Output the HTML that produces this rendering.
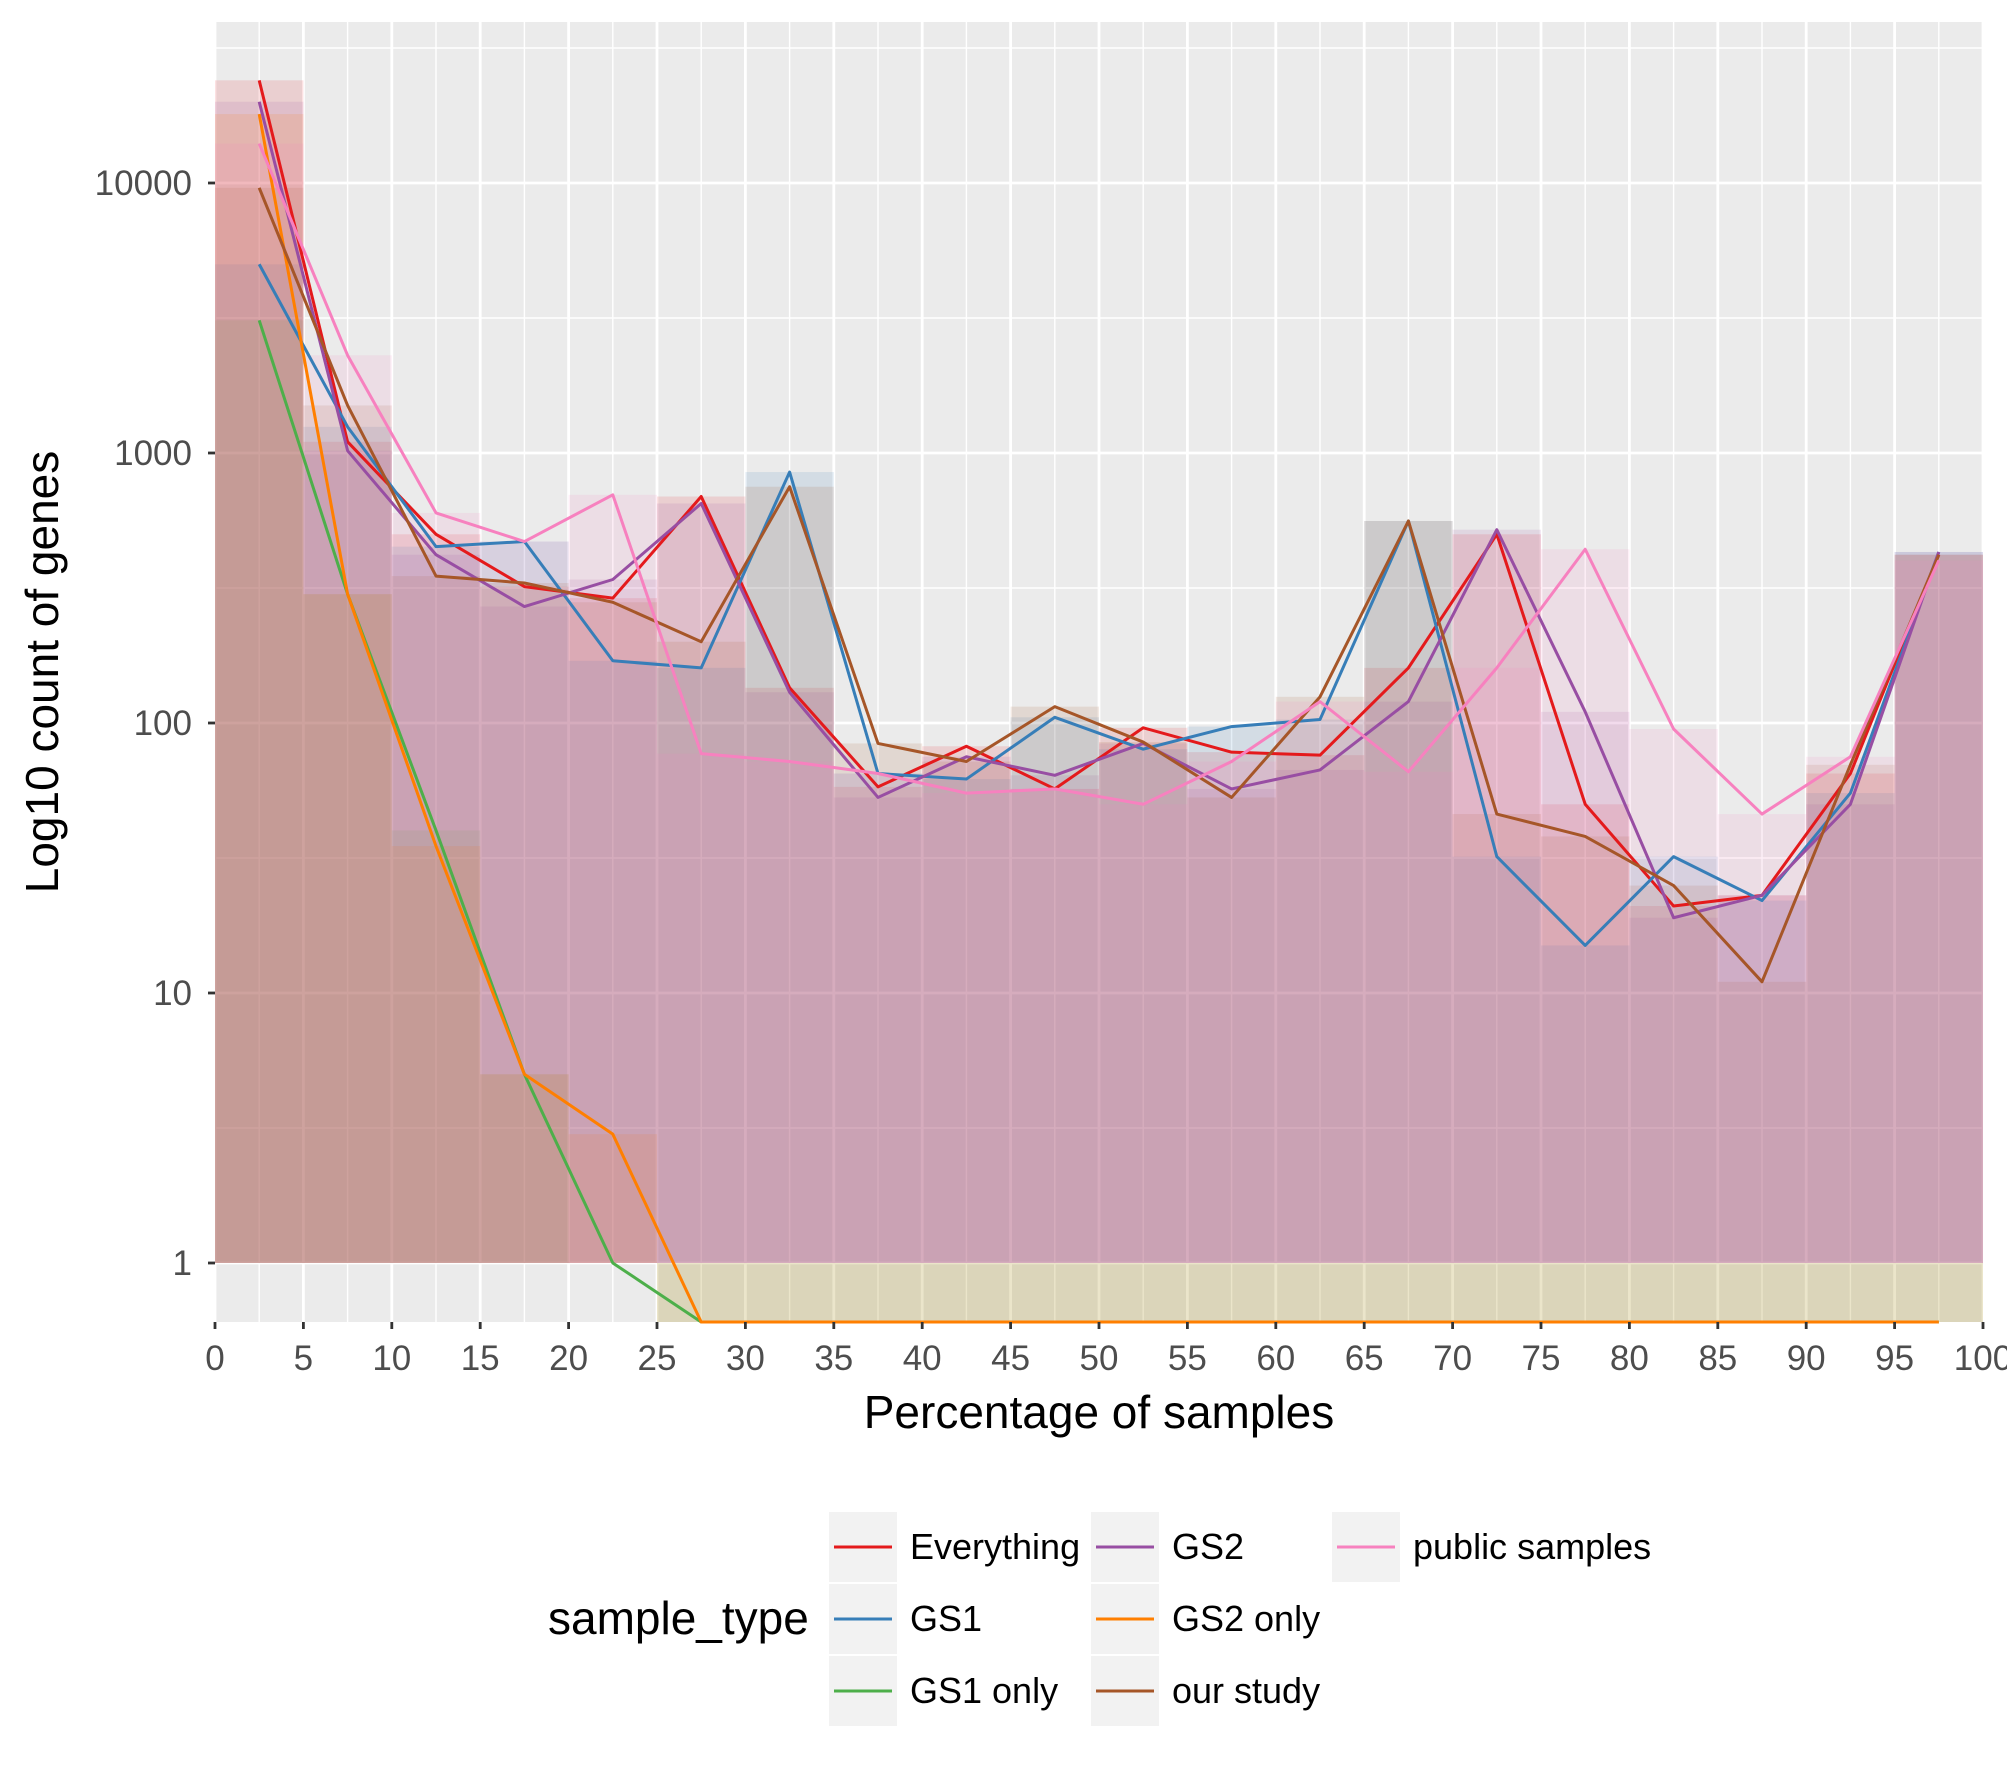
<!DOCTYPE html>
<html><head><meta charset="utf-8"><style>
body{margin:0;background:#fff;}
svg text{font-family:"Liberation Sans",Arial,sans-serif;}
</style></head><body>
<svg id="chart" width="2007" height="1771" viewBox="0 0 2007 1771" xmlns="http://www.w3.org/2000/svg">
<rect x="215" y="22" width="1768" height="1300" fill="#EBEBEB"/>
<g id="grid"></g><g id="bars"></g><g id="lines"></g><g id="axes"></g><g id="legend"></g>
</svg>
<script>
const bins = [2.5,7.5,12.5,17.5,22.5,27.5,32.5,37.5,42.5,47.5,52.5,57.5,62.5,67.5,72.5,77.5,82.5,87.5,92.5,97.5];
const seriesNames = ["Everything","GS1","GS1 only","GS2","GS2 only","our study","public samples"];
const seriesColors = ["#E41A1C","#377EB8","#4DAF4A","#984EA3","#FF7F00","#A65628","#F781BF"];
const everything = [24000,1100,500,320,290,690,135,58,82,57,96,78,76,160,500,50,21,23,65,420];
const gs1 = [5000,1250,450,470,170,160,850,65,62,105,80,97,103,560,32,15,32,22,55,430];
const gs1Only = [3100,300,40,5,1,0,0,0,0,0,0,0,0,0,0,0,0,0,0,0];
const gs2 = [20000,1020,420,270,340,650,130,53,75,64,84,57,67,120,520,110,19,23,50,430];
const gs2Only = [18000,300,35,5,3,0,0,0,0,0,0,0,0,0,0,0,0,0,0,0];
const ourStudy = [9600,1500,350,330,280,200,750,84,72,115,85,53,125,560,46,38,25,11,70,420];
const publicSamples = [14000,2300,600,470,700,77,72,65,55,57,50,72,120,66,160,440,95,46,75,400];
const yTicks = [1,10,100,1000,10000];
const xTicks = [0,5,10,15,20,25,30,35,40,45,50,55,60,65,70,75,80,85,90,95,100];

const seriesData = [everything,gs1,gs1Only,gs2,gs2Only,ourStudy,publicSamples];
const NS="http://www.w3.org/2000/svg";
const L=215,R=1983,T=22,B=1322;
function xs(v){return L+(v/100)*(R-L);}
function ys(v){ if(v<=0) return B; return 1263-Math.log10(v)*270; }
function mk(tag,attrs,parent){const e=document.createElementNS(NS,tag);for(const k in attrs)e.setAttribute(k,attrs[k]);parent.appendChild(e);return e;}
const grid=document.getElementById('grid'),bars=document.getElementById('bars'),lines=document.getElementById('lines'),axes=document.getElementById('axes'),legend=document.getElementById('legend');
for(let p=-0.5;p<=5;p+=1){const y=1263-p*270;if(y>T&&y<B){const l=mk('line',{x1:L,x2:R,y1:y,y2:y,stroke:'#fff','stroke-width':1.4},grid);}}
for(let v=2.5;v<100;v+=5){const l=mk('line',{x1:xs(v),x2:xs(v),y1:T,y2:B,stroke:'#fff','stroke-width':1.4},grid);}
yTicks.forEach(t=>{const l=mk('line',{x1:L,x2:R,y1:ys(t),y2:ys(t),stroke:'#fff','stroke-width':2.8},grid);});
xTicks.forEach(t=>{const l=mk('line',{x1:xs(t),x2:xs(t),y1:T,y2:B,stroke:'#fff','stroke-width':2.8},grid);});
seriesData.forEach((arr,si)=>{arr.forEach((v,i)=>{const x0=xs(bins[i]-2.5),x1=xs(bins[i]+2.5);const y1=ys(1);const y2=ys(v);
 const r=mk('rect',{x:x0,width:x1-x0,y:Math.min(y1,y2),height:Math.abs(y2-y1),fill:seriesColors[si],'fill-opacity':0.13},bars);
 
 });});
seriesData.forEach((arr,si)=>{const pts=arr.map((v,i)=>xs(bins[i])+','+ys(v)).join(' ');
 const p=mk('polyline',{points:pts,fill:'none',stroke:seriesColors[si],'stroke-width':3,'stroke-linejoin':'round'},lines);
 
 });
yTicks.forEach(t=>{const y=ys(t);mk('line',{x1:L-7,x2:L,y1:y,y2:y,stroke:'#333','stroke-width':2.8},axes);
 const tx=mk('text',{x:L-23,y:y+12,'text-anchor':'end','font-size':35,fill:'#4D4D4D'},axes);tx.textContent=t;
 });
xTicks.forEach(t=>{const x=xs(t);mk('line',{x1:x,x2:x,y1:B,y2:B+7,stroke:'#333','stroke-width':2.8},axes);
 const tx=mk('text',{x:x,y:B+48,'text-anchor':'middle','font-size':35,fill:'#4D4D4D'},axes);tx.textContent=t;
 });
const xt=mk('text',{x:(L+R)/2,y:1428,'text-anchor':'middle','font-size':46,fill:'#000'},axes);xt.textContent='Percentage of samples';

const yt=mk('text',{x:0,y:0,transform:'translate(58,672) rotate(-90)','text-anchor':'middle','font-size':46,fill:'#000'},axes);yt.textContent='Log10 count of genes';

const lt=mk('text',{x:548,y:1634,'font-size':46,fill:'#000'},legend);lt.textContent='sample_type';

const colX=[829,1091,1332],rowY=[1512,1584,1656];
const order=[[0,0,0],[1,0,1],[2,0,2],[3,1,0],[4,1,1],[5,1,2],[6,2,0]];
order.forEach(([si,c,r])=>{const g=mk('g',{},legend);
 mk('rect',{x:colX[c],y:rowY[r],width:68,height:70,fill:'#F2F2F2'},g);
 mk('line',{x1:colX[c]+5,x2:colX[c]+63,y1:rowY[r]+35,y2:rowY[r]+35,stroke:seriesColors[si],'stroke-width':3},g);
 const t=mk('text',{x:colX[c]+81,y:rowY[r]+47,'font-size':36,fill:'#000'},g);t.textContent=seriesNames[si];});
</script>
</body></html>
